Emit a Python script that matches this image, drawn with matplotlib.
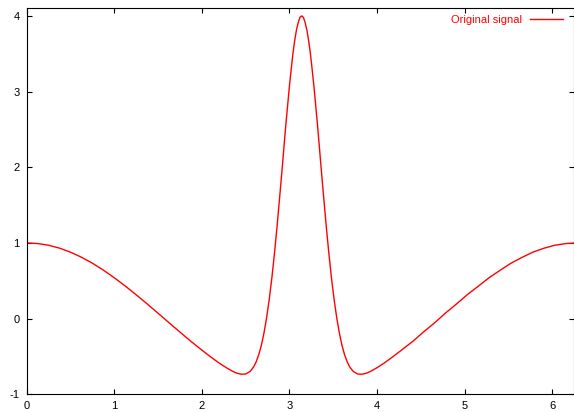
import matplotlib.pyplot as plt

plt.rcParams['font.family'] = ['Liberation Sans', 'DejaVu Sans']
plt.rcParams['axes.unicode_minus'] = False

# values
x = [0.0, 0.125, 0.25, 0.375, 0.5, 0.625, 0.75, 0.875, 1.0, 1.125, 1.25,
     1.375, 1.5, 1.625, 1.75, 1.875, 2.0, 2.1, 2.2, 2.28, 2.35, 2.4, 2.45,
     2.5, 2.55, 2.59, 2.62, 2.65, 2.68, 2.71, 2.74, 2.77, 2.8, 2.83, 2.86,
     2.89, 2.92, 2.94, 2.96, 2.98, 3.0, 3.02, 3.04, 3.06, 3.08, 3.1, 3.12,
     3.1416,
     3.16, 3.18, 3.2, 3.22, 3.24, 3.26, 3.28, 3.3, 3.32, 3.34, 3.36, 3.39,
     3.42, 3.45, 3.48, 3.51, 3.54, 3.57, 3.6, 3.63, 3.66, 3.69, 3.73, 3.78,
     3.83, 3.88, 3.93, 4.0, 4.08, 4.18, 4.28, 4.41, 4.53, 4.66, 4.78, 4.91,
     5.03, 5.16, 5.28, 5.41, 5.53, 5.66, 5.78, 5.91, 6.03, 6.16, 6.2832]
y = [1.0, 0.992, 0.969, 0.931, 0.878, 0.811, 0.732, 0.641, 0.54, 0.431,
     0.315, 0.195, 0.071, -0.054, -0.178, -0.3, -0.416, -0.505, -0.589,
     -0.649, -0.695, -0.721, -0.735, -0.732, -0.699, -0.641, -0.572, -0.477,
     -0.351, -0.188, 0.014, 0.257, 0.54, 0.869, 1.23, 1.62, 2.02, 2.3, 2.57,
     2.82, 3.07, 3.29, 3.5, 3.67, 3.81, 3.91, 3.98, 4.0,
     3.98, 3.91, 3.81, 3.67, 3.5, 3.29, 3.07, 2.82, 2.57, 2.3, 2.02, 1.62,
     1.23, 0.869, 0.54, 0.257, 0.014, -0.188, -0.351, -0.477, -0.572, -0.641,
     -0.699, -0.732, -0.735, -0.721, -0.695, -0.649, -0.589, -0.505, -0.416,
     -0.3, -0.178, -0.054, 0.071, 0.195, 0.315, 0.431, 0.54, 0.641, 0.732,
     0.811, 0.878, 0.931, 0.969, 0.992, 1.0]

fig = plt.figure(figsize=(5.74, 4.12), dpi=100)
ax = fig.add_axes([26.7 / 574, 17.7 / 412, (574 - 26.7) / 574, 386 / 412])

ax.plot(x, y, color='red', lw=1.0, label='Original signal')

ax.set_xlim(0, 6.25)
ax.set_ylim(-1, 4.1)
ax.set_xticks(range(0, 7))
ax.set_yticks(range(-1, 5))
ax.tick_params(direction='in', top=True, right=True, length=3.3, width=0.8,
               labelsize=8, pad=5)
for s in ax.spines.values():
    s.set_linewidth(0.8)

ax.legend(loc='center right', bbox_to_anchor=(0.980, 0.970), frameon=False,
          markerfirst=False, borderpad=0, borderaxespad=0, handlelength=2.95,
          handletextpad=0.72, fontsize=8, labelcolor='red')

plt.savefig('out.png', dpi=100)
